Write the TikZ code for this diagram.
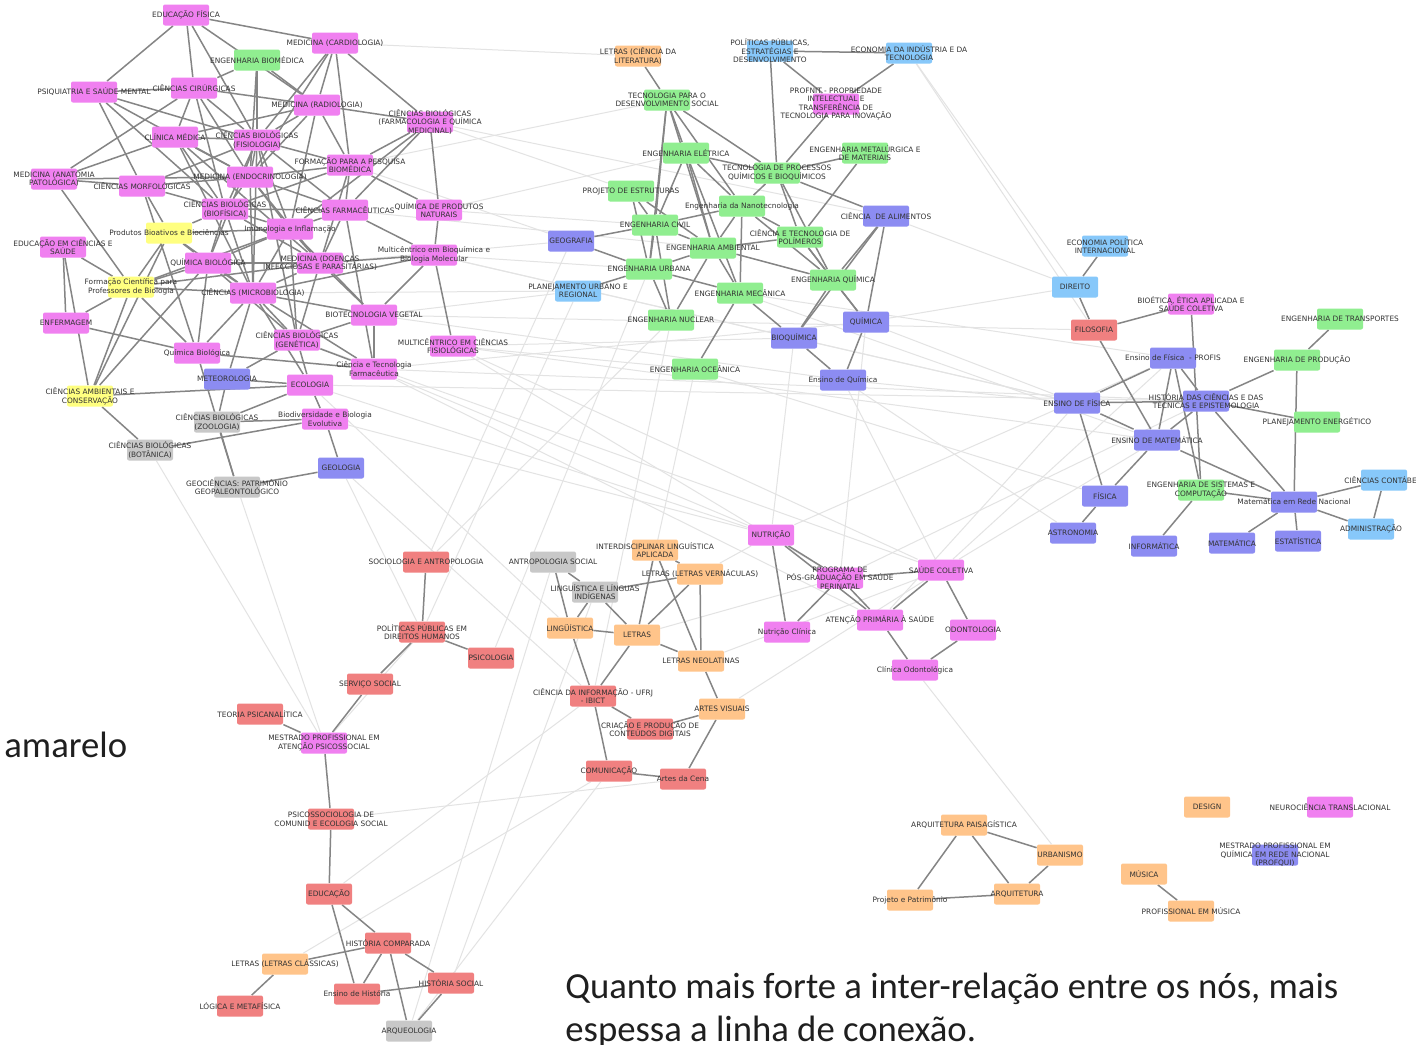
\documentclass[tikz,border=0pt]{standalone}
\usepackage{fontspec}
\newfontfamily\labfont{DejaVu Sans}
\newfontfamily\capfont{Carlito}
\definecolor{cpink}{RGB}{240,128,240}
\definecolor{cgreen}{RGB}{144,238,144}
\definecolor{cblue}{RGB}{140,140,242}
\definecolor{clblue}{RGB}{135,200,250}
\definecolor{cred}{RGB}{240,128,128}
\definecolor{corange}{RGB}{255,196,138}
\definecolor{cgray}{RGB}{200,200,200}
\definecolor{cyellow}{RGB}{255,255,128}
\pgfdeclarelayer{bg}\pgfdeclarelayer{fg}\pgfsetlayers{bg,main,fg}
\tikzset{
  nbox/.style={rectangle,rounded corners=1pt,minimum width=23pt,minimum height=10.5pt,inner sep=0pt,draw=none},
  lab/.style={font=\labfont\fontsize{3.7}{4.3}\selectfont,align=center,inner sep=0pt,text=black!80},
  edge/.style={draw=black!48,line width=0.75pt},
  faint/.style={draw=black!11,line width=0.5pt},
  captxt/.style={font=\capfont\fontsize{18.35}{22}\selectfont,inner sep=0pt,text=black!88,anchor=base west}
}
\newcommand{\nd}[5]{%
  \node[nbox,fill=#4] (#1) at (#2,#3) {};
  \begin{pgfonlayer}{fg}\node[lab] (#1l) at (#2,#3) {#5};\end{pgfonlayer}}
\begin{document}
\begin{tikzpicture}[x=0.5pt,y=-0.5pt]
\useasboundingbox (0,0) rectangle (1416,1044);
% ---------- cluster 1
\nd{ef}{186}{15}{cpink}{EDUCAÇÃO FÍSICA}
\nd{card}{335}{43}{cpink}{MEDICINA (CARDIOLOGIA)}
\nd{ebio}{257}{60}{cgreen}{ENGENHARIA BIOMÉDICA}
\nd{psiq}{94}{92}{cpink}{PSIQUIATRIA E SAÚDE MENTAL}
\nd{ccir}{194}{88}{cpink}{CIÊNCIAS CIRÚRGICAS}
\nd{radio}{317}{105}{cpink}{MEDICINA (RADIOLOGIA)}
\nd{farmaco}{430}{122}{cpink}{CIÊNCIAS BIOLÓGICAS\\(FARMACOLOGIA E QUÍMICA\\MEDICINAL)}
\nd{cmed}{175}{137}{cpink}{CLÍNICA MÉDICA}
\nd{fisio}{257}{140}{cpink}{CIÊNCIAS BIOLÓGICAS\\(FISIOLOGIA)}
\nd{fpb}{350}{165}{cpink}{FORMAÇÃO PARA A PESQUISA\\BIOMÉDICA}
\nd{anat}{54}{179}{cpink}{MEDICINA (ANATOMIA\\PATOLÓGICA)}
\nd{morf}{142}{186}{cpink}{CIÊNCIAS MORFOLÓGICAS}
\nd{endo}{250}{177}{cpink}{MEDICINA (ENDOCRINOLOGIA)}
\nd{biof}{225}{209}{cpink}{CIÊNCIAS BIOLÓGICAS\\(BIOFÍSICA)}
\nd{cfarm}{345}{210}{cpink}{CIÊNCIAS FARMACÊUTICAS}
\nd{qpn}{439}{210}{cpink}{QUÍMICA DE PRODUTOS\\NATURAIS}
\nd{imuno}{290}{229}{cpink}{Imunologia e Inflamação}
\nd{prodbio}{169}{233}{cyellow}{Produtos Bioativos e Biociências}
\nd{educs}{63}{247}{cpink}{EDUCAÇÃO EM CIÊNCIAS E\\SAÚDE}
\nd{multbq}{434}{255}{cpink}{Multicêntrico em Bioquímica e\\Biologia Molecular}
\nd{qbio}{208}{263}{cpink}{QUÍMICA BIOLÓGICA}
\nd{dip}{320}{263}{cpink}{MEDICINA (DOENÇAS\\INFECCIOSAS E PARASITÁRIAS)}
\nd{fcpb}{131}{287}{cyellow}{Formação Científica para\\Professores de Biologia}
\nd{micro}{253}{293}{cpink}{CIÊNCIAS (MICROBIOLOGIA)}
\nd{biotec}{374}{315}{cpink}{BIOTECNOLOGIA VEGETAL}
\nd{enf}{66}{323}{cpink}{ENFERMAGEM}
\nd{gen}{297}{340}{cpink}{CIÊNCIAS BIOLÓGICAS\\(GENÉTICA)}
\nd{multfis}{453}{346}{cpink}{MULTICÊNTRICO EM CIÊNCIAS\\FISIOLÓGICAS}
\nd{qbio2}{197}{353}{cpink}{Química Biológica}
\nd{ctf}{374}{369}{cpink}{Ciência e Tecnologia\\Farmacêutica}
\nd{meteo}{227}{379}{cblue}{METEOROLOGIA}
\nd{eco}{310}{385}{cpink}{ECOLOGIA}
\nd{cac}{90}{396}{cyellow}{CIÊNCIAS AMBIENTAIS E\\CONSERVAÇÃO}
\nd{zoo}{217}{422}{cgray}{CIÊNCIAS BIOLÓGICAS\\(ZOOLOGIA)}
\nd{bbe}{325}{419}{cpink}{Biodiversidade e Biologia\\Evolutiva}
\nd{bot}{150}{450}{cgray}{CIÊNCIAS BIOLÓGICAS\\(BOTÂNICA)}
\nd{geol}{341}{468}{cblue}{GEOLOGIA}
\nd{geoc}{237}{487}{cgray}{GEOCIÊNCIAS: PATRIMÔNIO\\GEOPALEONTOLÓGICO}
% ---------- cluster 2
\nd{letlit}{638}{56}{corange}{LETRAS (CIÊNCIA DA\\LITERATURA)}
\nd{ppe}{770}{51}{clblue}{POLÍTICAS PÚBLICAS,\\ESTRATÉGIAS E\\DESENVOLVIMENTO}
\nd{eit}{909}{53}{clblue}{ECONOMIA DA INDÚSTRIA E DA\\TECNOLOGIA}
\nd{tds}{667}{100}{cgreen}{TECNOLOGIA PARA O\\DESENVOLVIMENTO SOCIAL}
\nd{profnit}{836}{104}{cpink}{PROFNIT - PROPRIEDADE\\INTELECTUAL E\\TRANSFERÊNCIA DE\\TECNOLOGIA PARA INOVAÇÃO}
\nd{eele}{686}{153}{cgreen}{ENGENHARIA ELÉTRICA}
\nd{emet}{865}{153}{cgreen}{ENGENHARIA METALÚRGICA E\\DE MATERIAIS}
\nd{tpq}{777}{173}{cgreen}{TECNOLOGIA DE PROCESSOS\\QUÍMICOS E BIOQUÍMICOS}
\nd{pest}{631}{191}{cgreen}{PROJETO DE ESTRUTURAS}
\nd{nano}{742}{206}{cgreen}{Engenharia da Nanotecnologia}
\nd{calim}{886}{216}{cblue}{CIÊNCIA\ \ DE ALIMENTOS}
\nd{ecivil}{655}{225}{cgreen}{ENGENHARIA CIVIL}
\nd{ctpol}{800}{237}{cgreen}{CIÊNCIA E TECNOLOGIA DE\\POLÍMEROS}
\nd{geog}{571}{241}{cblue}{GEOGRAFIA}
\nd{eamb}{713}{248}{cgreen}{ENGENHARIA AMBIENTAL}
\nd{eurb}{649}{269}{cgreen}{ENGENHARIA URBANA}
\nd{equim}{833}{280}{cgreen}{ENGENHARIA QUÍMICA}
\nd{pur}{578}{291}{clblue}{PLANEJAMENTO URBANO E\\REGIONAL}
\nd{emec}{740}{293}{cgreen}{ENGENHARIA MECÂNICA}
\nd{enuc}{671}{320}{cgreen}{ENGENHARIA NUCLEAR}
\nd{quim}{866}{322}{cblue}{QUÍMICA}
\nd{bioq}{794}{338}{cblue}{BIOQUÍMICA}
\nd{eoce}{695}{369}{cgreen}{ENGENHARIA OCEÂNICA}
\nd{enq}{843}{380}{cblue}{Ensino de Química}
% ---------- cluster 3
\nd{epi}{1105}{246}{clblue}{ECONOMIA POLÍTICA\\INTERNACIONAL}
\nd{dir}{1075}{287}{clblue}{DIREITO}
\nd{bioet}{1191}{304}{cpink}{BIOÉTICA, ÉTICA APLICADA E\\SAÚDE COLETIVA}
\nd{etrans}{1340}{319}{cgreen}{ENGENHARIA DE TRANSPORTES}
\nd{filo}{1094}{330}{cred}{FILOSOFIA}
\nd{efprofis}{1173}{358}{cblue}{Ensino de Física\ \ - PROFIS}
\nd{eprod}{1297}{360}{cgreen}{ENGENHARIA DE PRODUÇÃO}
\nd{ef2}{1077}{403}{cblue}{ENSINO DE FÍSICA}
\nd{hist}{1206}{401}{cblue}{HISTÓRIA DAS CIÊNCIAS E DAS\\TÉCNICAS E EPISTEMOLOGIA}
\nd{penerg}{1317}{422}{cgreen}{PLANEJAMENTO ENERGÉTICO}
\nd{emat}{1157}{440}{cblue}{ENSINO DE MATEMÁTICA}
\nd{esc}{1201}{490}{cgreen}{ENGENHARIA DE SISTEMAS E\\COMPUTAÇÃO}
\nd{ccont}{1384}{480}{clblue}{CIÊNCIAS CONTÁBEIS}
\nd{fis}{1105}{496}{cblue}{FÍSICA}
\nd{mrn}{1294}{502}{cblue}{Matemática em Rede Nacional}
\nd{adm}{1371}{529}{clblue}{ADMINISTRAÇÃO}
\nd{astro}{1073}{533}{cblue}{ASTRONOMIA}
\nd{info}{1154}{546}{cblue}{INFORMÁTICA}
\nd{mat}{1232}{543}{cblue}{MATEMÁTICA}
\nd{est}{1298}{541}{cblue}{ESTATÍSTICA}
% ---------- cluster 4
\nd{soc}{426}{562}{cred}{SOCIOLOGIA E ANTROPOLOGIA}
\nd{antsoc}{553}{562}{cgray}{ANTROPOLOGIA SOCIAL}
\nd{ila}{655}{550}{corange}{INTERDISCIPLINAR LINGUÍSTICA\\APLICADA}
\nd{letv}{700}{574}{corange}{LETRAS (LETRAS VERNÁCULAS)}
\nd{lli}{595}{592}{cgray}{LINGUÍSTICA E LÍNGUAS\\INDÍGENAS}
\nd{ppdh}{422}{632}{cred}{POLÍTICAS PÚBLICAS EM\\DIREITOS HUMANOS}
\nd{ling}{570}{628}{corange}{LINGÜÍSTICA}
\nd{let}{637}{635}{corange}{LETRAS}
\nd{psico}{491}{658}{cred}{PSICOLOGIA}
\nd{letn}{701}{661}{corange}{LETRAS NEOLATINAS}
\nd{sserv}{370}{684}{cred}{SERVIÇO SOCIAL}
\nd{cinf}{593}{696}{cred}{CIÊNCIA DA INFORMAÇÃO - UFRJ\\- IBICT}
\nd{artv}{722}{709}{corange}{ARTES VISUAIS}
\nd{cpcd}{650}{729}{cred}{CRIAÇÃO E PRODUÇÃO DE\\CONTEÚDOS DIGITAIS}
\nd{com}{609}{771}{cred}{COMUNICAÇÃO}
\nd{artc}{683}{779}{cred}{Artes da Cena}
\nd{teoria}{260}{714}{cred}{TEORIA PSICANALÍTICA}
\nd{mpaps}{324}{743}{cpink}{MESTRADO PROFISSIONAL EM\\ATENÇÃO PSICOSSOCIAL}
\nd{psicos}{331}{819}{cred}{PSICOSSOCIOLOGIA DE\\COMUNID E ECOLOGIA SOCIAL}
\nd{educ}{329}{894}{cred}{EDUCAÇÃO}
\nd{hcomp}{388}{943}{cred}{HISTÓRIA COMPARADA}
\nd{letc}{285}{964}{corange}{LETRAS (LETRAS CLÁSSICAS)}
\nd{hsoc}{451}{983}{cred}{HISTÓRIA SOCIAL}
\nd{ehist}{357}{994}{cred}{Ensino de História}
\nd{logica}{240}{1006}{cred}{LÓGICA E METAFÍSICA}
\nd{arq}{409}{1031}{cgray}{ARQUEOLOGIA}
% ---------- cluster 5
\nd{nut}{771}{535}{cpink}{NUTRIÇÃO}
\nd{ppsp}{840}{578}{cpink}{PROGRAMA DE\\PÓS-GRADUAÇÃO EM SAÚDE\\PERINATAL}
\nd{scol}{941}{570}{cpink}{SAÚDE COLETIVA}
\nd{nutc}{787}{632}{cpink}{Nutrição Clínica}
\nd{aps}{880}{620}{cpink}{ATENÇÃO PRIMÁRIA À SAÚDE}
\nd{odon}{973}{630}{cpink}{ODONTOLOGIA}
\nd{codon}{915}{670}{cpink}{Clínica Odontológica}
% ---------- cluster 6
\nd{arqp}{964}{825}{corange}{ARQUITETURA PAISAGÍSTICA}
\nd{urb}{1060}{855}{corange}{URBANISMO}
\nd{arquit}{1017}{894}{corange}{ARQUITETURA}
\nd{pp}{910}{900}{corange}{Projeto e Patrimônio}
\nd{design}{1207}{807}{corange}{DESIGN}
\nd{neuro}{1330}{807}{cpink}{NEUROCIÊNCIA TRANSLACIONAL}
\nd{profqui}{1275}{855}{cblue}{MESTRADO PROFISSIONAL EM\\QUÍMICA EM REDE NACIONAL\\(PROFQUI)}
\nd{mus}{1144}{874}{corange}{MÚSICA}
\nd{pmus}{1191}{911}{corange}{PROFISSIONAL EM MÚSICA}
% ---------- edges
\begin{pgfonlayer}{bg}
\fill[white] (0,0) rectangle (1416,1044);
\foreach \a/\b in {farmaco/pest,fpb/geog,cfarm/eamb,qpn/ecivil,multbq/eurb,multbq/bioq,biotec/pur,
  biotec/enq,multfis/eoce,multfis/bioq,ctf/quim,dip/geog,micro/pur,multbq/ef2,multfis/emat,ctf/hist,
  biotec/filo,geoc/mpaps,bot/mpaps,eco/nut,bbe/nut,ctf/nut,multfis/ppsp,geol/cinf,eit/dir,eit/filo,
  enq/ef2,emec/efprofis,quim/ef2,quim/dir,eoce/let,enuc/cinf,pur/ppdh,letv/nut,let/ppsp,artv/scol,
  bioq/nut,enq/scol,quim/ppsp,scol/efprofis,ppsp/hist,codon/urb,arq/antsoc,letc/com,psicos/artc,
  geog/soc,farmaco/calim,fpb/tds,qpn/eele,card/letlit,multfis/scol,ctf/aps,geol/ppdh,eco/ling,
  bioq/ef2,emec/emat,eoce/fis,calim/dir,nut/efprofis,soc/enuc,psico/eurb,mpaps/ppdh,hsoc/lli,
  arq/com,educ/cinf,eco/hist,gen/scol,enq/astro,scol/emat,letn/scol,aps/ef2}
  \draw[faint] (\a) -- (\b);
\foreach \a/\b in {ef/psiq,ef/card,ef/fisio,ef/radio,ef/ccir,
  card/radio,card/farmaco,card/fisio,card/endo,card/fpb,
  ebio/fisio,ebio/radio,ebio/ccir,ebio/endo,
  psiq/ccir,psiq/morf,psiq/endo,psiq/fisio,psiq/biof,
  ccir/radio,ccir/anat,ccir/fisio,ccir/endo,ccir/biof,ccir/cmed,
  radio/farmaco,radio/cmed,radio/fisio,radio/endo,radio/fpb,radio/imuno,
  cmed/anat,cmed/fisio,cmed/endo,cmed/biof,cmed/dip,cmed/micro,
  fisio/endo,fisio/biof,fisio/fpb,fisio/cfarm,fisio/imuno,fisio/qbio,fisio/micro,fisio/gen,
  anat/morf,anat/fcpb,anat/endo,
  morf/endo,morf/biof,morf/prodbio,morf/qbio2,morf/fisio,
  endo/fpb,endo/biof,endo/cfarm,endo/imuno,endo/dip,endo/micro,
  fpb/farmaco,fpb/qpn,fpb/cfarm,fpb/dip,fpb/biof,
  biof/imuno,biof/qbio,biof/micro,biof/dip,biof/cfarm,biof/prodbio,
  cfarm/farmaco,cfarm/imuno,cfarm/dip,cfarm/multbq,cfarm/ctf,
  farmaco/imuno,farmaco/qpn,qpn/multbq,
  imuno/dip,imuno/micro,imuno/qbio,imuno/gen,imuno/biotec,imuno/prodbio,
  prodbio/qbio,prodbio/fcpb,prodbio/cac,prodbio/micro,
  educs/fcpb,educs/enf,educs/cac,
  fcpb/qbio,fcpb/micro,fcpb/enf,fcpb/cac,fcpb/qbio2,fcpb/imuno,fcpb/dip,
  qbio/dip,qbio/micro,qbio/qbio2,qbio/cac,qbio/gen,
  dip/micro,dip/multbq,dip/gen,dip/biotec,
  multbq/micro,multbq/biotec,multbq/multfis,
  micro/gen,micro/biotec,micro/meteo,micro/qbio2,micro/eco,micro/ctf,
  biotec/gen,biotec/ctf,gen/eco,gen/ctf,gen/meteo,
  enf/qbio2,qbio2/ctf,qbio2/geoc,cac/eco,cac/bot,
  meteo/eco,meteo/zoo,eco/bbe,eco/zoo,zoo/bbe,zoo/geoc,bot/bbe,bbe/geol,geol/geoc,
  letlit/tds,ppe/eit,ppe/profnit,ppe/tpq,eit/profnit,profnit/tpq,
  tds/eele,tds/nano,tds/ecivil,tds/eamb,tds/tpq,tds/eurb,
  eele/nano,eele/ecivil,eele/eamb,eele/emec,eele/tpq,
  emet/tpq,emet/ctpol,tpq/nano,tpq/calim,tpq/ctpol,tpq/equim,
  pest/ecivil,pest/eamb,pest/eurb,
  nano/eamb,nano/emec,nano/ecivil,nano/ctpol,nano/equim,
  calim/equim,calim/bioq,calim/quim,
  ecivil/eurb,ecivil/eamb,ecivil/enuc,
  ctpol/equim,ctpol/eamb,ctpol/quim,
  geog/ecivil,geog/eurb,
  eamb/equim,eamb/emec,eamb/eurb,eamb/enuc,
  eurb/enuc,eurb/emec,pur/eurb,
  equim/bioq,equim/quim,emec/bioq,emec/eoce,bioq/enq,quim/enq,
  epi/dir,dir/filo,filo/emat,filo/bioet,bioet/esc,efprofis/esc,
  etrans/eprod,eprod/hist,eprod/mrn,
  efprofis/ef2,efprofis/hist,efprofis/emat,
  ef2/hist,hist/penerg,ef2/emat,ef2/fis,
  hist/emat,hist/mrn,emat/mrn,emat/fis,
  esc/mrn,esc/info,fis/astro,mrn/mat,mrn/est,mrn/adm,mrn/ccont,ccont/adm,
  soc/ppdh,ppdh/psico,ppdh/sserv,sserv/mpaps,teoria/mpaps,mpaps/psicos,psicos/educ,
  educ/hcomp,educ/ehist,hcomp/letc,hcomp/ehist,hcomp/hsoc,hcomp/arq,
  letc/logica,ehist/hsoc,hsoc/arq,
  antsoc/ling,antsoc/lli,lli/ling,lli/let,lli/letv,
  ila/let,ila/letv,ila/letn,letv/letn,letv/let,
  ling/let,ling/cinf,let/letn,let/cinf,letn/artv,
  cinf/cpcd,cinf/com,cpcd/artv,artv/artc,com/artc,
  nut/ppsp,nut/nutc,nut/aps,ppsp/scol,ppsp/nutc,ppsp/aps,
  scol/aps,scol/odon,aps/codon,odon/codon,
  arqp/urb,arqp/arquit,arqp/pp,urb/arquit,pp/arquit,mus/pmus}
  \draw[edge] (\a) -- (\b);
\end{pgfonlayer}
% ---------- free texts
\node[captxt] (amarelo) at (4,757) {amarelo};
\node[captxt] (cap1) at (565,998) {Quanto mais forte a inter-relação entre os nós, mais};
\node[captxt] (cap2) at (565,1041) {espessa a linha de conexão.};
\end{tikzpicture}
\end{document}
